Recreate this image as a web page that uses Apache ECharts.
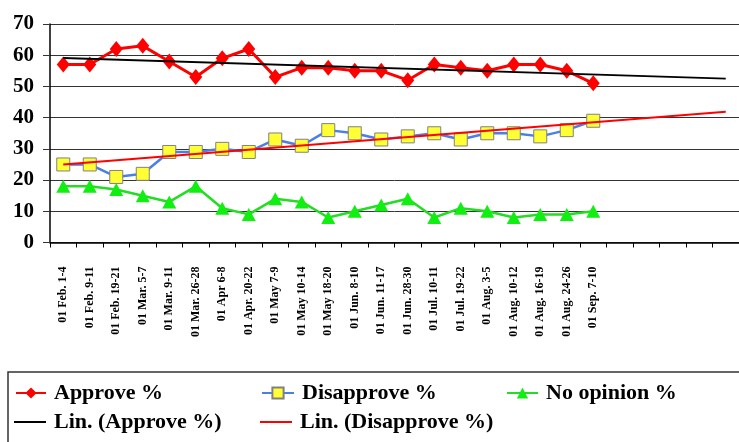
<!DOCTYPE html>
<html>
<head>
<meta charset="utf-8">
<script src="https://cdn.jsdelivr.net/npm/echarts@6/dist/echarts.min.js"></script>
<style>
  html, body { margin: 0; padding: 0; background: #fff; }
  #chart { width: 739px; height: 442px; }
</style>
</head>
<body>
<div id="chart"></div>
<script>
// ---- data ----
var categories = [
  '01 Feb. 1-4', '01 Feb. 9-11', '01 Feb. 19-21', '01 Mar. 5-7', '01 Mar. 9-11',
  '01 Mar. 26-28', '01 Apr 6-8', '01 Apr. 20-22', '01 May 7-9', '01 May 10-14',
  '01 May 18-20', '01 Jun. 8-10', '01 Jun. 11-17', '01 Jun. 28-30', '01 Jul. 10-11',
  '01 Jul. 19-22', '01 Aug. 3-5', '01 Aug. 10-12', '01 Aug. 16-19', '01 Aug. 24-26',
  '01 Sep. 7-10', '', '', '', '', ''
];
var approve    = [57, 57, 62, 63, 58, 53, 59, 62, 53, 56, 56, 55, 55, 52, 57, 56, 55, 57, 57, 55, 51];
var disapprove = [25, 25, 21, 22, 29, 29, 30, 29, 33, 31, 36, 35, 33, 34, 35, 33, 35, 35, 34, 36, 39];
var noOpinion  = [18, 18, 17, 15, 13, 18, 11, 9, 14, 13, 8, 10, 12, 14, 8, 11, 10, 8, 9, 9, 10];
// trend line values at the first and last category
var approveTrendEnds    = [59.1, 52.5];
var disapproveTrendEnds = [25.0, 41.9];
var yTicks = { min: 0, max: 70, interval: 10 };

function endsToSeries(ends, n) {
  var arr = [];
  for (var i = 0; i < n; i++) arr.push(null);
  arr[0] = ends[0];
  arr[n - 1] = ends[1];
  return arr;
}

var serif = '"Liberation Serif", "DejaVu Serif", serif';
var chart = echarts.init(document.getElementById('chart'), null, { renderer: 'canvas' });

function legendAt(item, left, top, iconW, iconH) {
  return {
    data: [item],
    left: left,
    top: top,
    padding: 0,
    itemWidth: iconW,
    itemHeight: iconH,
    selectedMode: false,
    textStyle: {
      fontFamily: serif,
      fontWeight: 'bold',
      fontSize: 22,
      color: '#000',
      lineHeight: 24,
      padding: [0, 0, 0, 3]
    }
  };
}

var option = {
  animation: false,
  backgroundColor: '#fff',
  grid: { left: 50, right: -11, top: 24, bottom: 199.5 },
  graphic: [{
    type: 'rect',
    shape: { x: 8, y: 372, width: 800, height: 100 },
    style: { fill: 'none', stroke: '#333', lineWidth: 1.5 },
    silent: true
  }],
  legend: [
    legendAt('Approve %', 15, 381, 30, 14),
    legendAt('Disapprove %', 261, 381, 32, 14),
    legendAt('No opinion %', 506, 381, 31, 14),
    legendAt({ name: 'Lin. (Approve %)', icon: 'rect', itemStyle: { color: '#000' } }, 14, 410, 32, 2),
    legendAt({ name: 'Lin. (Disapprove %)', icon: 'rect', itemStyle: { color: '#ff0000' } }, 260, 410, 32, 2)
  ],
  xAxis: {
    type: 'category',
    data: categories,
    boundaryGap: true,
    axisLine: { lineStyle: { color: '#000', width: 1.5 } },
    axisTick: { show: true, length: 5, interval: 0, lineStyle: { color: '#000' } },
    axisLabel: {
      interval: 0,
      rotate: 90,
      margin: 24,
      fontFamily: serif,
      fontWeight: 'bold',
      fontSize: 12,
      color: '#000'
    },
    splitLine: { show: false }
  },
  yAxis: {
    type: 'value',
    min: yTicks.min,
    max: yTicks.max,
    interval: yTicks.interval,
    axisLine: { show: true, lineStyle: { color: '#000', width: 1.5 } },
    axisTick: { show: true, length: 7, inside: false, lineStyle: { color: '#333' } },
    axisLabel: {
      margin: 16,
      fontFamily: serif,
      fontWeight: 'bold',
      fontSize: 21,
      color: '#000'
    },
    splitLine: { show: true, lineStyle: { color: '#333', width: 1 } }
  },
  series: [
    {
      name: 'Lin. (Approve %)',
      type: 'line',
      data: endsToSeries(approveTrendEnds, categories.length),
      connectNulls: true,
      symbol: 'none',
      lineStyle: { color: '#000', width: 2 },
      itemStyle: { color: '#000' },
      z: 3
    },
    {
      name: 'Lin. (Disapprove %)',
      type: 'line',
      data: endsToSeries(disapproveTrendEnds, categories.length),
      connectNulls: true,
      symbol: 'none',
      lineStyle: { color: '#ff0000', width: 2 },
      itemStyle: { color: '#ff0000' },
      z: 3
    },
    {
      name: 'Approve %',
      type: 'line',
      data: approve,
      symbol: 'diamond',
      symbolSize: [13, 16],
      lineStyle: { color: '#ff0000', width: 3 },
      itemStyle: { color: '#ff0000' },
      z: 2
    },
    {
      name: 'Disapprove %',
      type: 'line',
      data: disapprove,
      symbol: 'rect',
      symbolSize: 13,
      lineStyle: { color: '#4a7fe8', width: 2.5 },
      itemStyle: { color: '#ffff33', borderColor: '#808080', borderWidth: 1 },
      z: 2
    },
    {
      name: 'No opinion %',
      type: 'line',
      data: noOpinion,
      symbol: 'triangle',
      symbolSize: [14, 13],
      lineStyle: { color: '#22dd22', width: 2.5 },
      itemStyle: { color: '#11ee11' },
      z: 2
    }
  ]
};
chart.setOption(option);
</script>
</body>
</html>
